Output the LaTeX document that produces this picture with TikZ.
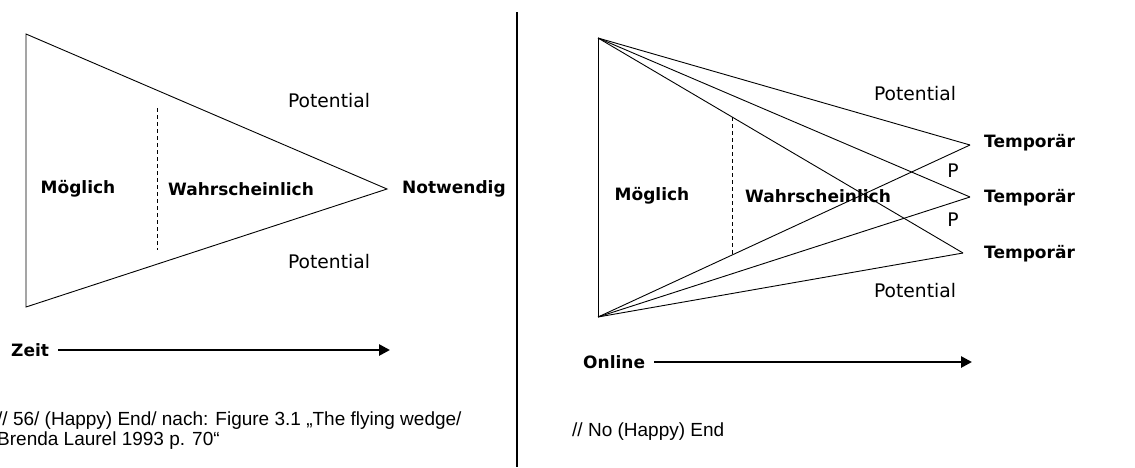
\documentclass[tikz,border=0pt]{standalone}
\usepackage{fontspec}
\setmainfont{DejaVu Sans}
\newfontfamily\capfont{Liberation Sans}
\usetikzlibrary{arrows.meta}
\tikzset{
  edge/.style={line width=0.9pt},
  dash line/.style={line width=0.9pt, dash pattern=on 4pt off 3pt},
  blabel/.style={font=\fontsize{17}{20}\selectfont\bfseries, inner sep=0pt},
  plabel/.style={font=\fontsize{18.7}{21}\selectfont, inner sep=0pt},
  caption/.style={font=\capfont\fontsize{19}{20}\selectfont, inner sep=0pt, align=left},
  timearrow/.style={line width=2.6pt, -{Triangle[length=11pt,width=11pt]}}
}
\begin{document}
\begin{tikzpicture}[x=1pt,y=-1pt]
\useasboundingbox (0,0) rectangle (1135,467);
% divider
\coordinate (divtop) at (517,12);
\coordinate (divbot) at (517,467);
\draw[line width=2pt] (divtop) -- (divbot);

% ---------- left panel ----------
\coordinate (LA) at (26,34);
\coordinate (LB) at (26,307);
\coordinate (LT) at (387,189);
\draw[edge] (LA) -- (LT) -- (LB) -- cycle;
\coordinate (Ld1) at (157,108);
\coordinate (Ld2) at (157,250);
\draw[dash line] (Ld1) -- (Ld2);
\node[blabel] (lmog) at (78,189) {Möglich};
\node[blabel] (lwahr) at (241,189) {Wahrscheinlich};
\node[blabel,anchor=west] (lnot) at (402,189) {Notwendig};
\node[plabel] (lpot1) at (329,101) {Potential};
\node[plabel] (lpot2) at (329,262) {Potential};
\node[blabel,anchor=west] (zeit) at (11,350) {Zeit};
\coordinate (zeitend) at (390,350);
\draw[timearrow] (zeit.east) ++(9,0) -- (zeitend);
\node[caption,anchor=west] (lcap) at (-3,431) {// 56/ (Happy) End/ nach: Figure 3.1 „The flying wedge/\\Brenda Laurel 1993 p. 70“};

% ---------- right panel ----------
\coordinate (RA) at (598,38);
\coordinate (RB) at (598,317);
\coordinate (T1) at (970,145);
\coordinate (T2) at (970,197);
\coordinate (T3) at (963,253);
\draw[edge] (RA) -- (RB);
\draw[edge] (RA) -- (T1);
\draw[edge] (RA) -- (T2);
\draw[edge] (RA) -- (T3);
\draw[edge] (RB) -- (T1);
\draw[edge] (RB) -- (T2);
\draw[edge] (RB) -- (T3);
\coordinate (Rd1) at (732,117);
\coordinate (Rd2) at (732,255);
\draw[dash line] (Rd1) -- (Rd2);
\node[blabel] (rmog) at (652,196) {Möglich};
\node[blabel] (rwahr) at (818,196) {Wahrscheinlich};
\node[blabel,anchor=west] (tmp1) at (984,143) {Temporär};
\node[blabel,anchor=west] (tmp2) at (984,198) {Temporär};
\node[blabel,anchor=west] (tmp3) at (984,254) {Temporär};
\node[plabel] (p1) at (953,171) {P};
\node[plabel] (p2) at (953,220) {P};
\node[plabel] (rpot1) at (915,94) {Potential};
\node[plabel] (rpot2) at (915,291) {Potential};
\node[blabel,anchor=west] (online) at (583,362) {Online};
\coordinate (onlineend) at (972,362);
\draw[timearrow] (online.east) ++(9,0) -- (onlineend);
\node[caption,anchor=west] (rcap) at (572,432) {// No (Happy) End};
\end{tikzpicture}
\end{document}
